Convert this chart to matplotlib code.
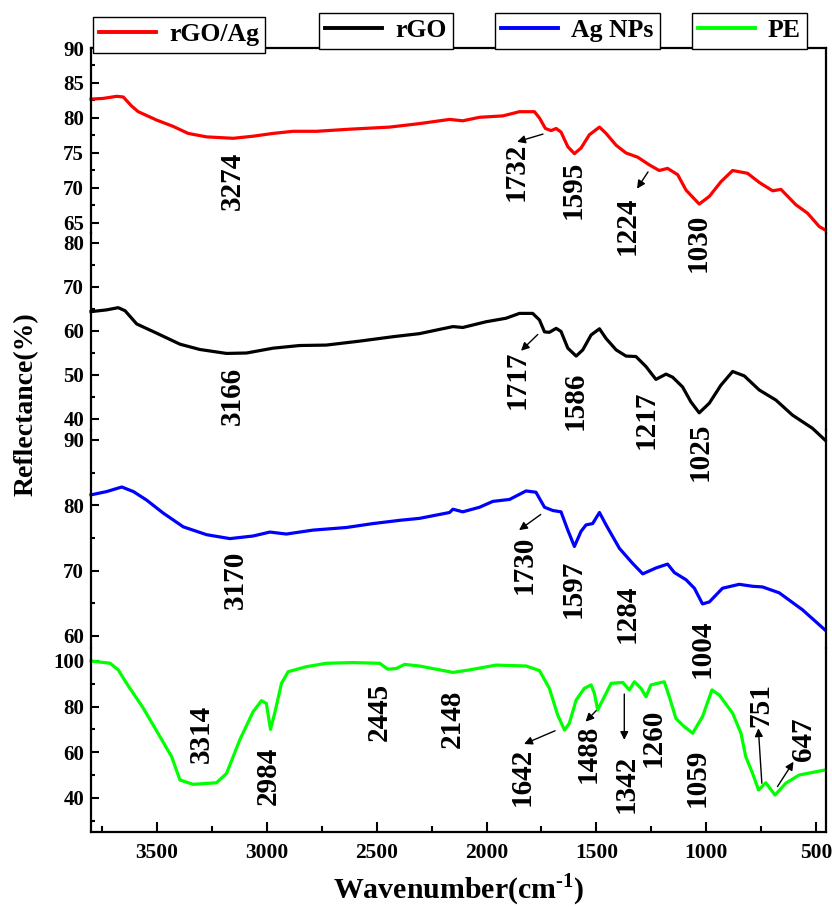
import matplotlib
matplotlib.use("Agg")
import matplotlib.pyplot as plt
from matplotlib.lines import Line2D
from matplotlib.ticker import MultipleLocator

plt.rcParams['font.family'] = ['Liberation Serif', 'DejaVu Serif']
plt.rcParams['font.weight'] = 'bold'
plt.rcParams['mathtext.fontset'] = 'custom'
plt.rcParams['mathtext.rm'] = 'Liberation Serif:bold'
plt.rcParams['mathtext.bf'] = 'Liberation Serif:bold'

# ---- data (wavenumber, reflectance) ----
wn_rgoag = [3800, 3744, 3683, 3653, 3615, 3585, 3501, 3426, 3358, 3274, 3153, 3062, 2971, 2880,
            2774, 2623, 2441, 2305, 2168, 2108, 2032, 1926, 1850, 1782, 1759, 1732, 1706, 1683,
            1661, 1630, 1600, 1570, 1532, 1486, 1456, 1410, 1365, 1312, 1259, 1214, 1176, 1130,
            1092, 1032, 986, 933, 880, 812, 759, 698, 660, 592, 539, 486, 459]
r_rgoag = [82.7, 82.8, 83.1, 83.0, 81.7, 80.9, 79.7, 78.8, 77.8, 77.3, 77.1, 77.4, 77.8, 78.1,
           78.1, 78.4, 78.7, 79.2, 79.8, 79.6, 80.1, 80.3, 80.9, 80.9, 80.0, 78.5, 78.2, 78.5,
           78.0, 75.9, 74.9, 75.7, 77.6, 78.7, 77.8, 76.1, 75.0, 74.4, 73.3, 72.5, 72.8, 71.9,
           69.7, 67.7, 68.8, 70.9, 72.5, 72.1, 70.8, 69.6, 69.8, 67.6, 66.4, 64.5, 64.0]

wn_rgo = [3800, 3729, 3676, 3645, 3592, 3501, 3395, 3305, 3183, 3092, 2971, 2850, 2729, 2577,
          2426, 2305, 2153, 2108, 2002, 1911, 1850, 1790, 1759, 1736, 1714, 1683, 1661, 1630,
          1592, 1562, 1524, 1486, 1456, 1410, 1365, 1320, 1274, 1229, 1183, 1153, 1108, 1070,
          1032, 986, 933, 880, 827, 759, 683, 608, 517, 459]
r_rgo = [64.4, 64.8, 65.3, 64.6, 61.6, 59.5, 57.0, 55.8, 54.9, 55.0, 56.1, 56.7, 56.8, 57.7,
         58.7, 59.4, 61.0, 60.8, 62.1, 62.9, 64.0, 64.0, 62.5, 59.8, 59.7, 60.6, 59.9, 56.1,
         54.3, 55.7, 59.1, 60.5, 58.3, 55.7, 54.3, 54.2, 51.9, 49.0, 50.2, 49.5, 47.3, 43.9,
         41.4, 43.6, 47.7, 50.8, 49.8, 46.6, 44.3, 40.9, 37.9, 35.2]

wn_ag = [3800, 3729, 3660, 3607, 3547, 3471, 3380, 3274, 3168, 3062, 2986, 2911, 2790, 2638,
         2517, 2395, 2305, 2168, 2153, 2108, 2032, 1971, 1895, 1820, 1775, 1736, 1698, 1661,
         1630, 1600, 1570, 1547, 1517, 1486, 1456, 1395, 1335, 1289, 1229, 1176, 1145, 1092,
         1054, 1017, 986, 926, 850, 789, 744, 668, 562, 459]
r_ag = [81.6, 82.1, 82.8, 82.1, 80.8, 78.8, 76.7, 75.5, 74.9, 75.3, 75.9, 75.6, 76.2, 76.6,
        77.2, 77.7, 78.0, 78.9, 79.4, 79.0, 79.7, 80.6, 80.9, 82.2, 82.0, 79.7, 79.2, 79.0,
        76.2, 73.7, 76.0, 77.0, 77.2, 78.9, 77.0, 73.4, 71.1, 69.5, 70.4, 71.0, 69.7, 68.6,
        67.3, 64.9, 65.2, 67.3, 67.9, 67.6, 67.5, 66.6, 64.0, 60.9]

wn_pe = [3800, 3713, 3676, 3638, 3562, 3486, 3433, 3395, 3335, 3229, 3183, 3123, 3062, 3024,
         3002, 2983, 2964, 2933, 2903, 2820, 2729, 2608, 2486, 2449, 2411, 2373, 2305, 2153,
         2077, 1956, 1820, 1759, 1714, 1676, 1645, 1623, 1592, 1555, 1524, 1509, 1494, 1479,
         1433, 1380, 1350, 1327, 1297, 1274, 1252, 1191, 1168, 1138, 1108, 1062, 1017, 974,
         941, 880, 842, 820, 789, 762, 729, 687, 638, 577, 459]
r_pe = [100.0, 99.0, 96.1, 90.2, 79.3, 66.8, 58.0, 47.8, 45.9, 46.6, 50.7, 65.4, 77.8, 82.6,
        81.4, 70.0, 77.1, 90.2, 95.3, 97.5, 99.0, 99.3, 99.0, 96.4, 96.7, 98.5, 97.8, 95.0,
        96.1, 98.2, 97.8, 95.8, 88.0, 76.3, 69.7, 72.7, 82.9, 88.0, 89.5, 85.8, 78.5, 81.4,
        90.2, 90.6, 87.3, 90.9, 88.0, 84.3, 89.5, 90.9, 84.3, 74.8, 71.9, 68.3, 75.6, 87.3,
        85.1, 77.1, 68.3, 58.0, 50.7, 43.4, 46.6, 41.2, 46.4, 50.0, 52.2]

# peak labels: (text, x, y)
peaks_rgoag = [("3274", 3158, 71.0), ("1732", 1866, 72.3), ("1595", 1605, 69.7),
               ("1224", 1360, 64.6), ("1030", 1037, 62.1)]
peaks_rgo = [("3166", 3156, 45.2), ("1717", 1861, 48.9), ("1586", 1597, 44.1),
             ("1217", 1275, 39.8), ("1025", 1028, 32.5)]
peaks_ag = [("3170", 3145, 68.6), ("1730", 1829, 70.9), ("1597", 1606, 67.2),
            ("1284", 1360, 63.4), ("1004", 1019, 58.1)]
peaks_pe = [("3314", 3300, 68.0), ("2984", 2995, 49.6), ("2445", 2489, 77.6),
            ("2148", 2157, 74.6), ("1642", 1836, 49.1), ("1488", 1538, 59.2),
            ("1342", 1365, 46.1), ("1260", 1244, 66.4), ("1059", 1043, 48.7),
            ("751", 750, 80.7), ("647", 559, 65.8)]

# arrows: (tail, head)
arrows_rgoag = [((1743, 77.7), (1861, 76.6)), ((1265, 72.3), (1315, 69.9))]
arrows_rgo = [((1767, 59.2), (1843, 55.5))]
arrows_ag = [((1753, 78.6), (1852, 76.2))]
arrows_pe = [((1688, 69.4), (1829, 63.6)), ((1501, 78.2), (1549, 73.4)),
             ((1373, 85.5), (1373, 65.4)), ((747, 46.4), (763, 70.5)),
             ((676, 44.9), (603, 55.8))]

W, H = 832, 908
fig = plt.figure(figsize=(W / 100, H / 100), dpi=100)

left, right = 91, 826
bounds = [48, 233, 430, 648, 832]   # panel edges in px from top

panels = [
    (wn_rgoag, r_rgoag, 'red', (63.57, 90), 5, 2.5, peaks_rgoag, arrows_rgoag, 'rGO/Ag'),
    (wn_rgo, r_rgo, 'black', (37.5, 82.27), 10, 5, peaks_rgo, arrows_rgo, 'rGO'),
    (wn_ag, r_ag, 'blue', (58.15, 91.53), 10, 5, peaks_ag, arrows_ag, 'Ag NPs'),
    (wn_pe, r_pe, '#00ff00', (25.0, 105.7), 20, 10, peaks_pe, arrows_pe, 'PE'),
]

axes = []
for i, (x, y, col, ylim, maj, mnr, peaks, arrs, lab) in enumerate(panels):
    top, bot = bounds[i], bounds[i + 1]
    ax = fig.add_axes([left / W, 1 - bot / H, (right - left) / W, (bot - top) / H])
    ax.patch.set_alpha(0)
    ax.plot(x, y, color=col, lw=2.3, clip_on=False)
    ax.set_xlim(3800, 455)
    ax.set_ylim(*ylim)
    ax.yaxis.set_major_locator(MultipleLocator(maj))
    ax.yaxis.set_minor_locator(MultipleLocator(mnr))
    ax.xaxis.set_major_locator(MultipleLocator(500))
    ax.xaxis.set_minor_locator(MultipleLocator(250))
    ax.tick_params(axis='y', which='both', direction='in', left=True, right=False,
                   width=1.5, labelsize=15, pad=5)
    ax.tick_params(axis='y', which='major', length=6)
    ax.tick_params(axis='y', which='minor', length=3)
    for s in ax.spines.values():
        s.set_linewidth(1.6)
    if i != 0:
        ax.spines['top'].set_visible(False)
    if i != 3:
        ax.spines['bottom'].set_visible(False)
        ax.tick_params(axis='x', which='both', bottom=False, labelbottom=False)
    else:
        ax.tick_params(axis='x', which='both', direction='in', width=1.5,
                       labelsize=15.5, pad=8)
        ax.tick_params(axis='x', which='major', length=7)
        ax.tick_params(axis='x', which='minor', length=4)
    for t, tx, ty in peaks:
        ax.text(tx, ty, t, rotation=90, ha='center', va='center',
                fontsize=21, fontweight='bold')
    for tail, head in arrs:
        ax.annotate('', xy=head, xytext=tail,
                    arrowprops=dict(arrowstyle='-|>', color='k', lw=1,
                                    mutation_scale=12, shrinkA=0, shrinkB=0))
    axes.append(ax)

axes[3].set_xlabel(r'Wavenumber(cm$^{\text{-1}}$)', fontsize=21.5, fontweight='bold',
                   labelpad=6)
fig.text(26 / W, 1 - 404 / H, 'Reflectance(%)', rotation=90, ha='center', va='center',
         fontsize=20, fontweight='bold')

# separate legend boxes along the top
leg_pos = [(93, 17), (319, 13), (495, 13), (692, 13)]
for (x, y, col, *_rest), (lx, ly) in zip(panels, leg_pos):
    lab = _rest[-1]
    h = Line2D([], [], color=col, lw=2.8)
    fig.legend(handles=[h], labels=[lab], loc='upper left',
               bbox_to_anchor=(lx / W, 1 - ly / H), fontsize=18.5, frameon=True,
               fancybox=False, edgecolor='k', framealpha=1, borderpad=0.25,
               handlelength=2.2, handletextpad=0.5, borderaxespad=0)

fig.savefig('out.png', dpi=100)
